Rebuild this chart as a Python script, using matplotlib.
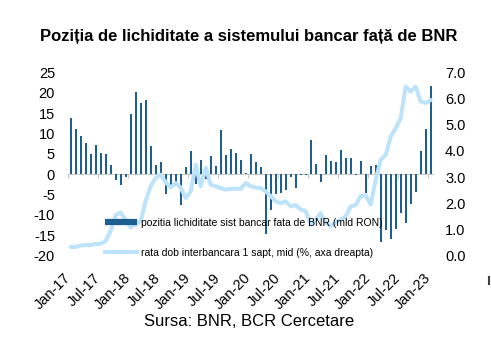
import matplotlib
matplotlib.use('Agg')
import matplotlib.pyplot as plt
from matplotlib.lines import Line2D
import numpy as np
import pandas as pd

plt.rcParams['font.family'] = ['Liberation Sans', 'DejaVu Sans']

months = list(pd.date_range('2017-01-01', '2023-01-01', freq='MS').strftime('%b-%y'))

liquidity = [13.8, 11.2, 9.3, 7.6, 5.0, 7.2, 5.2, 4.9, 2.2, -1.4, -2.7, -0.8,
             14.8, 20.1, 17.5, 18.3, 6.9, 2.2, 2.9, -5.0, -3.6, -3.0, -7.5, 1.8,
             5.8, -2.5, 3.4, -1.1, 4.5, 2.1, 10.8, 4.6, 6.3, 5.2, 3.4, 0.2,
             4.9, 3.0, 1.7, -14.8, -8.9, -4.8, -4.6, -3.8, -0.7, -3.3, -0.3, -0.3,
             8.4, 2.5, -1.9, 4.7, 3.2, 2.9, 5.9, 4.0, 4.0, -0.3, 3.2, -4.7,
             2.0, 2.2, -16.6, -13.7, -16.0, -13.5, -9.6, -12.0, -7.3, -4.3, 5.7, 11.1,
             21.6]

rate = [0.33, 0.33, 0.38, 0.40, 0.40, 0.44, 0.45, 0.55, 0.95, 1.55, 1.64, 1.35,
        1.07, 1.20, 1.31, 2.10, 2.65, 2.97, 3.09, 2.80, 2.60, 2.77, 2.60, 2.20,
        2.45, 3.47, 2.65, 3.35, 2.71, 2.65, 2.58, 2.52, 2.55, 2.55, 2.55, 2.77,
        2.65, 2.60, 2.58, 2.45, 2.27, 2.07, 2.00, 2.07, 1.88, 1.93, 1.76, 1.70,
        1.18, 1.37, 1.62, 1.26, 1.12, 1.26, 1.37, 1.50, 1.88, 1.93, 2.27, 2.30,
        1.95, 2.90, 3.66, 3.85, 4.55, 4.87, 5.25, 6.46, 6.27, 6.46, 5.89, 5.83,
        5.95]

tick_labels = ['Jan-17', 'Jul-17', 'Jan-18', 'Jul-18', 'Jan-19', 'Jul-19', 'Jan-20',
               'Jul-20', 'Jan-21', 'Jul-21', 'Jan-22', 'Jul-22', 'Jan-23']
left_ticks = [-20, -15, -10, -5, 0, 5, 10, 15, 20, 25]
right_ticks = [0.0, 1.0, 2.0, 3.0, 4.0, 5.0, 6.0, 7.0]

title = 'Poziția de lichiditate a sistemului bancar față de BNR'
label_bar = 'pozitia lichiditate sist bancar fata de BNR (mld RON)'
label_line = 'rata dob interbancara 1 sapt, mid (%, axa dreapta)'
source = 'Sursa: BNR, BCR Cercetare'

bar_color = '#1E5F91'
line_color = '#BDE3FA'

fig = plt.figure(figsize=(4.91, 3.49), dpi=100)
ax = fig.add_axes([0.1389, 0.2679, 0.7434, 0.5244])
x = np.arange(len(liquidity))
ax.bar(x, liquidity, width=0.4, color=bar_color, zorder=2)
ax.set_xlim(-0.5, len(x) - 0.5)
ax.set_ylim(-20, 25)
ax.set_yticks(left_ticks)
ax.set_yticklabels([str(v) for v in left_ticks])
for s in ['top', 'right', 'left']:
    ax.spines[s].set_visible(False)
ax.spines['bottom'].set_position(('data', 0))
ax.spines['bottom'].set_color('#C8C8C8')
ax.spines['bottom'].set_zorder(1)
tick_pos = [months.index(t) - 0.5 for t in tick_labels]
ax.set_xticks(tick_pos)
ax.tick_params(axis='x', direction='out', length=3, color='#C8C8C8', labelbottom=False)
ax.tick_params(axis='y', length=0, pad=9.5, labelsize=10.5)

sec = ax.secondary_xaxis('bottom')
sec.set_xticks(tick_pos)
sec.set_xticklabels(tick_labels, rotation=45, ha='right', va='center',
                    rotation_mode='anchor', fontsize=10.5)
sec.tick_params(length=0, pad=14.5)
sec.spines['bottom'].set_visible(False)

ax2 = ax.twinx()
ax2.plot(x, rate, color=line_color, lw=2.9, solid_joinstyle='round', solid_capstyle='round')
ax2.set_ylim(0, 7)
ax2.set_yticks(right_ticks)
ax2.set_yticklabels([f'{v:.1f}' for v in right_ticks])
ax2.tick_params(axis='y', length=0, pad=8.5, labelsize=10.5)
for s in ['top', 'right', 'left', 'bottom']:
    ax2.spines[s].set_visible(False)

handles = [Line2D([], [], color=bar_color, lw=4.5, solid_capstyle='butt'),
           Line2D([], [], color=line_color, lw=2.9)]
fig.legend(handles, [label_bar, label_line], loc='upper left',
           bbox_to_anchor=(105 / 491, 1 - 218 / 349), frameon=False,
           fontsize=7.5, handlelength=3.1, handletextpad=0.4, labelspacing=1.9,
           borderpad=0, borderaxespad=0)

fig.text(249 / 491, 1 - 37 / 349, title, ha='center', va='center',
         fontsize=12, weight='bold')
fig.text(249 / 491, 1 - 322 / 349, source, ha='center', va='center', fontsize=12)

fig.add_artist(Line2D([489 / 491, 489 / 491], [1 - 277 / 349, 1 - 284 / 349],
                      color='#404040', lw=1.5))

fig.savefig('out.png', dpi=100)
